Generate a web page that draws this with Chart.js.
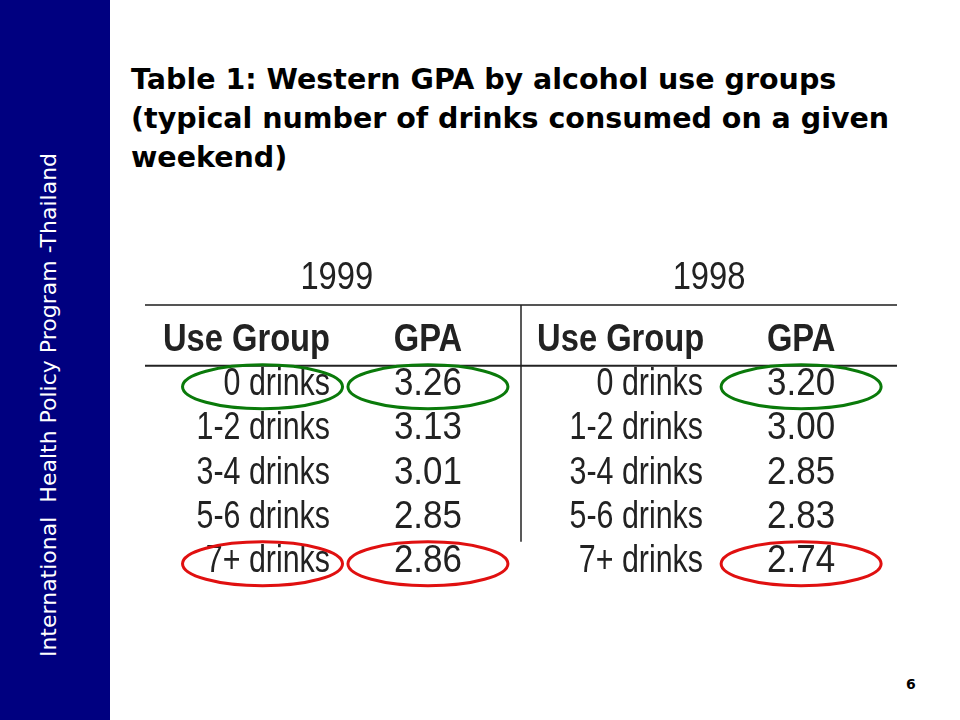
<!DOCTYPE html>
<html>
<head>
<meta charset="utf-8">
<script src="https://cdn.jsdelivr.net/npm/chart.js@4/dist/chart.umd.min.js"></script>
<style>
  body{margin:0;width:960px;height:720px;overflow:hidden;background:#fff;position:relative;font-family:"DejaVu Sans",sans-serif;}
  #side{position:absolute;left:0;top:0;width:110px;height:720px;background:#000080;}
  #sideText{position:absolute;left:48px;top:405px;transform:translate(-50%,-50%) rotate(-90deg);white-space:nowrap;color:#fff;font-size:22px;}
  #title{position:absolute;left:131px;top:60px;width:780px;font-weight:bold;font-size:28.5px;line-height:39px;color:#000;}
  #page{position:absolute;left:906px;top:676px;font-weight:bold;font-size:14px;}
  #tbl{position:absolute;left:0;top:0;}
</style>
</head>
<body>
<div id="side"><div id="sideText">International&nbsp; Health Policy Program -Thailand</div></div>
<div id="title">Table 1: Western GPA by alcohol use groups (typical number of drinks consumed on a given weekend)</div>
<div id="page">6</div>
<canvas id="tbl" width="960" height="720"></canvas>
<script>
// table content
const years = ['1999', '1998'];
const headers = ['Use Group', 'GPA', 'Use Group', 'GPA'];
const groups = ['0 drinks', '1-2 drinks', '3-4 drinks', '5-6 drinks', '7+ drinks'];
const gpa1999 = [3.26, 3.13, 3.01, 2.85, 2.86];
const gpa1998 = [3.20, 3.00, 2.85, 2.83, 2.74];
// column positions (table units) and circled cells [col,row,colour]
const colX = [0.54, 1.505, 2.53, 3.49];
const groupRight = [0.984, 2.968];
const circled = [[0, 0, '#0a7a0a'], [1, 0, '#0a7a0a'], [3, 0, '#0a7a0a'], [0, 4, '#e01010'], [1, 4, '#e01010'], [3, 4, '#e01010']];

const FONT = '"Liberation Sans Narrow","Arial Narrow","Liberation Sans",sans-serif';

// narrow text: squeeze horizontally
function txt(ctx, s, x, y, align, sx){
    ctx.save();
    ctx.translate(x, y);
    ctx.scale(sx, 1);
    ctx.textAlign = align;
    ctx.fillText(s, 0, 0);
    ctx.restore();
}

const tablePlugin = {
    id: 'tablePlugin',
    afterDraw(chart){
        const ctx = chart.ctx, xs = chart.scales.x, ys = chart.scales.y;
        const X = v => xs.getPixelForValue(v), Y = v => ys.getPixelForValue(v);
        ctx.save();
        // rules
        ctx.strokeStyle = '#555'; ctx.lineWidth = 2;
        ctx.beginPath(); ctx.moveTo(X(0), Y(-1.8)); ctx.lineTo(X(4), Y(-1.8)); ctx.stroke();
        ctx.strokeStyle = '#222';
        ctx.beginPath(); ctx.moveTo(X(0), Y(-0.43)); ctx.lineTo(X(4), Y(-0.43)); ctx.stroke();
        ctx.lineWidth = 1.5;
        ctx.beginPath(); ctx.moveTo(X(2), Y(-1.8)); ctx.lineTo(X(2), Y(3.55)); ctx.stroke();
        ctx.fillStyle = '#222'; ctx.textBaseline = 'middle';
        // years
        ctx.font = '38px ' + FONT;
        txt(ctx, years[0], X(1.02), Y(-2.4), 'center', 0.86);
        txt(ctx, years[1], X(3.0), Y(-2.4), 'center', 0.86);
        // headers
        ctx.font = 'bold 38px ' + FONT;
        headers.forEach((h, i) => txt(ctx, h, X(colX[i]), Y(-1), 'center', 0.86));
        // body
        ctx.font = '38px ' + FONT;
        groups.forEach((g, r) => {
            txt(ctx, g, X(groupRight[0]), Y(r), 'right', 0.8);
            txt(ctx, gpa1999[r].toFixed(2), X(colX[1]), Y(r), 'center', 0.92);
            txt(ctx, g, X(groupRight[1]), Y(r), 'right', 0.8);
            txt(ctx, gpa1998[r].toFixed(2), X(colX[3]), Y(r), 'center', 0.92);
        });
        // ellipses
        ctx.lineWidth = 3;
        circled.forEach(([c, r, col]) => {
            ctx.strokeStyle = col;
            ctx.beginPath();
            ctx.ellipse(X(colX[c]) + (c === 0 ? 16 : 0), Y(r) + 2, 80, 22, 0, 0, Math.PI * 2);
            ctx.stroke();
        });
        ctx.restore();
    }
};

new Chart(document.getElementById('tbl'), {
    type: 'scatter',
    data: { datasets: [{ data: [], pointRadius: 0 }] },
    options: {
        responsive: false, animation: false, devicePixelRatio: 1,
        layout: { padding: { left: 145, right: 63, top: 252, bottom: 114 } },
        plugins: { legend: { display: false }, tooltip: { enabled: false } },
        scales: {
            x: { type: 'linear', min: 0, max: 4, display: false },
            y: { type: 'linear', min: -3, max: 5, reverse: true, display: false }
        }
    },
    plugins: [tablePlugin]
});
</script>
</body>
</html>
